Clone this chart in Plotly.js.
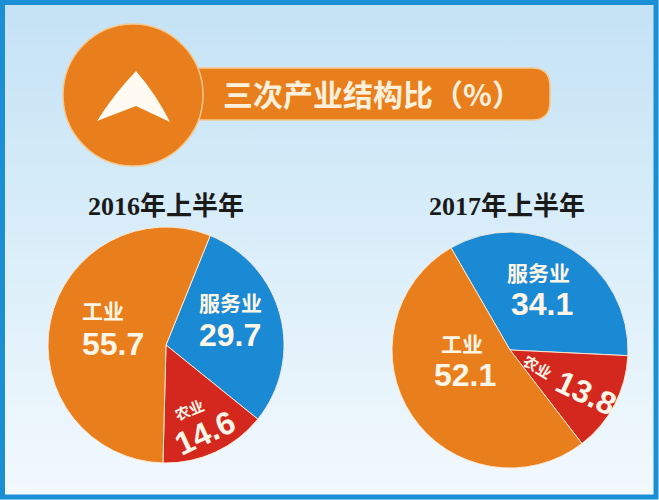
<!DOCTYPE html>
<html>
<head>
<meta charset="utf-8">
<script src="https://cdn.plot.ly/plotly-3.0.1.min.js"></script>
<style>
    body { margin: 0; }
    #chart {
        width: 659px;
        height: 500px;
        background: linear-gradient(to bottom, #c4e2f5 0%, #d8edf9 45%, #f3f9fd 100%);
    }
</style>
</head>
<body>
<div id="chart"></div>
<script>
// chart data
let years = ['2016年上半年', '2017年上半年'];
let sectors = ['服务业', '农业', '工业'];
let share2016 = [29.7, 14.6, 55.7];
let share2017 = [34.1, 13.8, 52.1];
let sectorColors = ['#1a8ad5', '#d4281f', '#e97e1d'];
let chartTitle = '三次产业结构比（%）';

const W = 659, H = 500;
// pixel -> paper helpers (margins are zero)
function px(x) { return x / W; }
function py(y) { return 1 - y / H; }

let pieLine = { color: 'rgba(255,236,214,0.9)', width: 1 };

let data = [{ // 2016
    type: 'pie',
    labels: sectors,
    values: share2016,
    sort: false,
    direction: 'clockwise',
    rotation: 22,
    textinfo: 'none',
    hoverinfo: 'skip',
    marker: { colors: sectorColors, line: pieLine },
    domain: { x: [px(48), px(284)], y: [py(463), py(227)] },
}, { // 2017
    type: 'pie',
    labels: sectors,
    values: share2017,
    sort: false,
    direction: 'clockwise',
    rotation: -30,
    textinfo: 'none',
    hoverinfo: 'skip',
    marker: { colors: sectorColors, line: pieLine },
    domain: { x: [px(392), px(628)], y: [py(468), py(232)] },
},];

let cream = '#fff6e8';
let numFont = { family: 'Liberation Sans, Arial, sans-serif', size: 32, color: cream, weight: 'bold' };
let nameFont = { family: 'Noto Sans CJK SC, sans-serif', size: 21, color: cream, weight: 'bold' };
let smallFont = { family: 'Noto Sans CJK SC, sans-serif', size: 15, color: cream, weight: 'bold' };

function label(text, x, y, font, angle) {
    return {
        text: text, x: px(x), y: py(y), xref: 'paper', yref: 'paper',
        xanchor: 'center', yanchor: 'middle', showarrow: false,
        font: font, textangle: angle || 0, borderpad: 0,
    };
}

// label spots: [name x, name y, name angle, value x, value y, value angle]
let spots2016 = [[230, 302, 0, 230, 335, 0], [189, 409, -22, 205, 433, -25], [103, 310, 0, 113, 344, 0]];
let spots2017 = [[538, 272, 0, 542, 304, 0], [538, 366, 31, 586, 393, 25], [462, 343, 0, 465, 375, 0]];

let annotations = [];
[[share2016, spots2016], [share2017, spots2017]].forEach(function (pair) {
    let vals = pair[0], spots = pair[1];
    for (let i = 0; i < sectors.length; ++i) {
        let s = spots[i];
        annotations.push(label(sectors[i], s[0], s[1], i === 1 ? smallFont : nameFont, s[2]));
        annotations.push(label(vals[i].toFixed(1), s[3], s[4], numFont, s[5]));
    }
});

// year headers
let yearFont = { family: 'Liberation Serif, Noto Sans CJK SC, serif', size: 26, color: '#1a1a1a', weight: 'bold' };
annotations.push(label(years[0], 166, 207, yearFont));
annotations.push(label(years[1], 507, 207, yearFont));

// banner title
annotations.push(label(chartTitle, 372, 93,
    { family: 'Noto Sans CJK SC, sans-serif', size: 30, color: '#fdf1de', weight: 'bold' }));

// banner bar path with rounded right end
function barPath(x0, x1, y0, y1, r) {
    return 'M' + px(x0) + ',' + py(y0) +
        ' L' + px(x1 - r) + ',' + py(y0) +
        ' Q' + px(x1) + ',' + py(y0) + ' ' + px(x1) + ',' + py(y0 + r) +
        ' L' + px(x1) + ',' + py(y1 - r) +
        ' Q' + px(x1) + ',' + py(y1) + ' ' + px(x1 - r) + ',' + py(y1) +
        ' L' + px(x0) + ',' + py(y1) + ' Z';
}
function arrowPath() {
    return 'M' + px(136) + ',' + py(71) +
        ' Q' + px(114) + ',' + py(94) + ' ' + px(97) + ',' + py(121) +
        ' L' + px(136) + ',' + py(106) +
        ' L' + px(170) + ',' + py(122) +
        ' Q' + px(156) + ',' + py(94) + ' ' + px(136) + ',' + py(71) + ' Z';
}

let orange = '#e97e1d';
let shapes = [{ // bar
    type: 'path', xref: 'paper', yref: 'paper',
    path: barPath(180, 550, 68, 120, 18),
    fillcolor: orange, line: { color: '#f5c992', width: 1.5 },
}, { // circle
    type: 'circle', xref: 'paper', yref: 'paper',
    x0: px(63), x1: px(203), y0: py(166), y1: py(24),
    fillcolor: orange, line: { color: '#f5c992', width: 1.5 },
}, { // arrow
    type: 'path', xref: 'paper', yref: 'paper',
    path: arrowPath(),
    fillcolor: '#fffaf2', line: { width: 0 },
}, { // frame
    type: 'rect', xref: 'paper', yref: 'paper',
    x0: px(2.5), x1: px(656), y0: py(497), y1: py(2.5),
    fillcolor: 'rgba(0,0,0,0)', line: { color: '#1a8fd3', width: 5 },
},];

let layout = {
    width: W,
    height: H,
    margin: { l: 0, r: 0, t: 0, b: 0, pad: 0 },
    paper_bgcolor: 'rgba(0,0,0,0)',
    plot_bgcolor: 'rgba(0,0,0,0)',
    showlegend: false,
    shapes: shapes,
    annotations: annotations,
};

let config = {
    staticPlot: true,
    displayModeBar: false,
};

Plotly.newPlot('chart', data, layout, config);
</script>
</body>
</html>
